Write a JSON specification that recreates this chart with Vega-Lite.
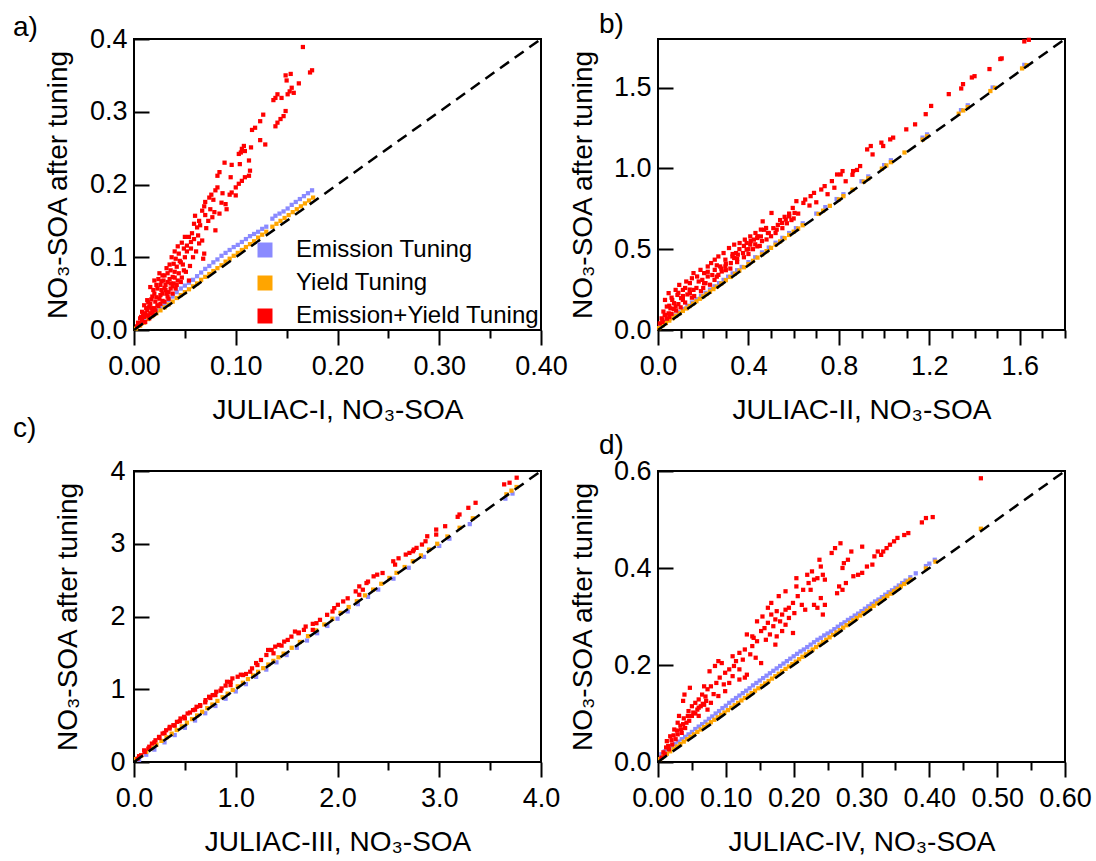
{
"$schema": "https://vega.github.io/schema/vega-lite/v6.json",
"background": "white",
"padding": {"left": 12, "top": 10, "right": 5, "bottom": 2},
"config": {
  "view": {"stroke": "black", "strokeWidth": 2},
  "font": "Liberation Sans",
  "axis": {"grid": false, "domain": false, "tickColor": "black", "tickWidth": 2, "labelFont": "Liberation Sans", "labelFontSize": 27, "labelColor": "black", "titleFont": "Liberation Sans", "titleFontSize": 28, "titleFontWeight": "normal", "titleColor": "black", "labelFlush": false, "labelOverlap": false},
  "title": {"font": "Liberation Sans", "fontSize": 28, "fontWeight": "normal", "color": "black", "anchor": "start", "frame": "group"},
  "legend": {"orient": "none", "padding": 0, "title": null, "symbolType": "square", "symbolSize": 225, "symbolStrokeWidth": 0, "symbolOpacity": 1, "labelFont": "Liberation Sans", "labelFontSize": 24, "labelColor": "black", "labelOffset": 19, "rowPadding": 9, "labelLimit": 0}
},
"datasets": {
"a": [
{"s":"E","x":0.005,"y":0.006},{"s":"E","x":0.010,"y":0.012},{"s":"E","x":0.014,"y":0.017},{"s":"E","x":0.018,"y":0.022},{"s":"E","x":0.022,"y":0.027},{"s":"E","x":0.026,"y":0.032},{"s":"E","x":0.030,"y":0.036},{"s":"E","x":0.034,"y":0.041},{"s":"E","x":0.038,"y":0.046},{"s":"E","x":0.042,"y":0.052},{"s":"E","x":0.046,"y":0.057},{"s":"E","x":0.050,"y":0.061},{"s":"E","x":0.054,"y":0.065},{"s":"E","x":0.058,"y":0.069},{"s":"E","x":0.062,"y":0.074},{"s":"E","x":0.066,"y":0.079},{"s":"E","x":0.070,"y":0.084},{"s":"E","x":0.074,"y":0.088},{"s":"E","x":0.078,"y":0.093},{"s":"E","x":0.082,"y":0.097},{"s":"E","x":0.086,"y":0.102},{"s":"E","x":0.090,"y":0.106},{"s":"E","x":0.094,"y":0.110},{"s":"E","x":0.098,"y":0.114},{"s":"E","x":0.102,"y":0.117},{"s":"E","x":0.106,"y":0.121},{"s":"E","x":0.110,"y":0.125},{"s":"E","x":0.114,"y":0.129},{"s":"E","x":0.118,"y":0.132},{"s":"E","x":0.122,"y":0.135},{"s":"E","x":0.126,"y":0.139},{"s":"E","x":0.130,"y":0.142},{"s":"E","x":0.136,"y":0.153},{"s":"E","x":0.139,"y":0.157},{"s":"E","x":0.143,"y":0.160},{"s":"E","x":0.147,"y":0.163},{"s":"E","x":0.151,"y":0.167},{"s":"E","x":0.155,"y":0.172},{"s":"E","x":0.159,"y":0.176},{"s":"E","x":0.163,"y":0.180},{"s":"E","x":0.167,"y":0.184},{"s":"E","x":0.171,"y":0.188},{"s":"E","x":0.175,"y":0.192},
{"s":"Y","x":0.002,"y":0.002},{"s":"Y","x":0.006,"y":0.006},{"s":"Y","x":0.010,"y":0.010},{"s":"Y","x":0.014,"y":0.015},{"s":"Y","x":0.018,"y":0.019},{"s":"Y","x":0.022,"y":0.023},{"s":"Y","x":0.026,"y":0.027},{"s":"Y","x":0.030,"y":0.031},{"s":"Y","x":0.034,"y":0.035},{"s":"Y","x":0.038,"y":0.039},{"s":"Y","x":0.042,"y":0.044},{"s":"Y","x":0.046,"y":0.048},{"s":"Y","x":0.050,"y":0.052},{"s":"Y","x":0.054,"y":0.056},{"s":"Y","x":0.058,"y":0.060},{"s":"Y","x":0.062,"y":0.064},{"s":"Y","x":0.066,"y":0.069},{"s":"Y","x":0.070,"y":0.073},{"s":"Y","x":0.074,"y":0.077},{"s":"Y","x":0.078,"y":0.081},{"s":"Y","x":0.082,"y":0.085},{"s":"Y","x":0.086,"y":0.089},{"s":"Y","x":0.090,"y":0.094},{"s":"Y","x":0.094,"y":0.098},{"s":"Y","x":0.098,"y":0.102},{"s":"Y","x":0.102,"y":0.106},{"s":"Y","x":0.106,"y":0.110},{"s":"Y","x":0.110,"y":0.114},{"s":"Y","x":0.114,"y":0.118},{"s":"Y","x":0.118,"y":0.122},{"s":"Y","x":0.122,"y":0.127},{"s":"Y","x":0.126,"y":0.131},{"s":"Y","x":0.130,"y":0.135},{"s":"Y","x":0.136,"y":0.142},{"s":"Y","x":0.140,"y":0.146},{"s":"Y","x":0.144,"y":0.150},{"s":"Y","x":0.148,"y":0.154},{"s":"Y","x":0.152,"y":0.158},{"s":"Y","x":0.156,"y":0.162},{"s":"Y","x":0.160,"y":0.166},{"s":"Y","x":0.164,"y":0.170},{"s":"Y","x":0.168,"y":0.174},{"s":"Y","x":0.172,"y":0.178},{"s":"Y","x":0.176,"y":0.182},
{"s":"R","x":0.166,"y":0.389},{"s":"R","x":0.175,"y":0.357},{"s":"R","x":0.173,"y":0.354},{"s":"R","x":0.154,"y":0.352},{"s":"R","x":0.149,"y":0.350},{"s":"R","x":0.150,"y":0.343},{"s":"R","x":0.162,"y":0.339},{"s":"R","x":0.155,"y":0.333},{"s":"R","x":0.153,"y":0.328},{"s":"R","x":0.157,"y":0.326},{"s":"R","x":0.151,"y":0.324},{"s":"R","x":0.141,"y":0.324},{"s":"R","x":0.139,"y":0.319},{"s":"R","x":0.137,"y":0.316},{"s":"R","x":0.145,"y":0.319},{"s":"R","x":0.127,"y":0.296},{"s":"R","x":0.149,"y":0.301},{"s":"R","x":0.147,"y":0.294},{"s":"R","x":0.144,"y":0.290},{"s":"R","x":0.141,"y":0.285},{"s":"R","x":0.139,"y":0.280},{"s":"R","x":0.124,"y":0.287},{"s":"R","x":0.119,"y":0.278},{"s":"R","x":0.116,"y":0.275},{"s":"R","x":0.124,"y":0.261},{"s":"R","x":0.129,"y":0.255},{"s":"R","x":0.108,"y":0.253},{"s":"R","x":0.106,"y":0.249},{"s":"R","x":0.105,"y":0.244},{"s":"R","x":0.103,"y":0.242},{"s":"R","x":0.109,"y":0.246},{"s":"R","x":0.115,"y":0.251},{"s":"R","x":0.089,"y":0.230},{"s":"R","x":0.096,"y":0.227},{"s":"R","x":0.104,"y":0.228},{"s":"R","x":0.113,"y":0.233},{"s":"R","x":0.084,"y":0.217},{"s":"R","x":0.082,"y":0.212},{"s":"R","x":0.095,"y":0.210},{"s":"R","x":0.114,"y":0.219},{"s":"R","x":0.113,"y":0.212},{"s":"R","x":0.109,"y":0.210},{"s":"R","x":0.106,"y":0.205},{"s":"R","x":0.103,"y":0.201},{"s":"R","x":0.100,"y":0.196},{"s":"R","x":0.096,"y":0.189},{"s":"R","x":0.094,"y":0.186},{"s":"R","x":0.100,"y":0.185},{"s":"R","x":0.082,"y":0.196},{"s":"R","x":0.080,"y":0.192},{"s":"R","x":0.087,"y":0.188},{"s":"R","x":0.076,"y":0.186},{"s":"R","x":0.074,"y":0.182},{"s":"R","x":0.078,"y":0.179},{"s":"R","x":0.070,"y":0.176},{"s":"R","x":0.069,"y":0.170},{"s":"R","x":0.067,"y":0.164},{"s":"R","x":0.090,"y":0.173},{"s":"R","x":0.091,"y":0.166},{"s":"R","x":0.075,"y":0.166},{"s":"R","x":0.079,"y":0.162},{"s":"R","x":0.060,"y":0.157},{"s":"R","x":0.064,"y":0.150},{"s":"R","x":0.059,"y":0.146},{"s":"R","x":0.062,"y":0.141},{"s":"R","x":0.065,"y":0.144},{"s":"R","x":0.080,"y":0.137},{"s":"R","x":0.057,"y":0.133},{"s":"R","x":0.054,"y":0.128},{"s":"R","x":0.059,"y":0.125},{"s":"R","x":0.056,"y":0.121},{"s":"R","x":0.052,"y":0.116},{"s":"R","x":0.049,"y":0.112},{"s":"R","x":0.064,"y":0.119},{"s":"R","x":0.067,"y":0.123},{"s":"R","x":0.069,"y":0.105},{"s":"R","x":0.068,"y":0.098},{"s":"R","x":0.044,"y":0.105},{"s":"R","x":0.041,"y":0.098},{"s":"R","x":0.046,"y":0.093},{"s":"R","x":0.039,"y":0.091},{"s":"R","x":0.042,"y":0.087},{"s":"R","x":0.036,"y":0.082},{"s":"R","x":0.049,"y":0.082},{"s":"R","x":0.033,"y":0.078},{"s":"R","x":0.038,"y":0.073},{"s":"R","x":0.054,"y":0.068},{"s":"R","x":0.046,"y":0.066},{"s":"R","x":0.029,"y":0.068},{"s":"R","x":0.026,"y":0.062},{"s":"R","x":0.023,"y":0.057},{"s":"R","x":0.020,"y":0.050},{"s":"R","x":0.018,"y":0.046},{"s":"R","x":0.031,"y":0.055},{"s":"R","x":0.028,"y":0.050},{"s":"R","x":0.025,"y":0.043},{"s":"R","x":0.021,"y":0.039},{"s":"R","x":0.016,"y":0.036},{"s":"R","x":0.015,"y":0.032},{"s":"R","x":0.013,"y":0.027},{"s":"R","x":0.011,"y":0.023},{"s":"R","x":0.010,"y":0.018},{"s":"R","x":0.008,"y":0.014},{"s":"R","x":0.007,"y":0.009},{"s":"R","x":0.005,"y":0.007},{"s":"R","x":0.020,"y":0.030},{"s":"R","x":0.023,"y":0.034},{"s":"R","x":0.026,"y":0.036},{"s":"R","x":0.033,"y":0.046},{"s":"R","x":0.036,"y":0.057},{"s":"R","x":0.039,"y":0.064},{"s":"R","x":0.013,"y":0.041},{"s":"R","x":0.010,"y":0.034},{"s":"R","x":0.016,"y":0.023},{"s":"R","x":0.008,"y":0.025},{"s":"R","x":0.007,"y":0.018},{"s":"R","x":0.011,"y":0.011},{"s":"R","x":0.015,"y":0.016},{"s":"R","x":0.018,"y":0.025},{"s":"R","x":0.021,"y":0.027},{"s":"R","x":0.034,"y":0.043},{"s":"R","x":0.030,"y":0.039},{"s":"R","x":0.025,"y":0.078},{"s":"R","x":0.020,"y":0.068},{"s":"R","x":0.028,"y":0.075},{"s":"R","x":0.016,"y":0.059},{"s":"R","x":0.033,"y":0.066},{"s":"R","x":0.038,"y":0.050},{"s":"R","x":0.041,"y":0.057},{"s":"R","x":0.043,"y":0.068},{"s":"R","x":0.003,"y":0.005},{"s":"R","x":0.012,"y":0.020},{"s":"R","x":0.017,"y":0.030},{"s":"R","x":0.022,"y":0.045},{"s":"R","x":0.027,"y":0.055},{"s":"R","x":0.031,"y":0.062},{"s":"R","x":0.035,"y":0.070},{"s":"R","x":0.040,"y":0.080},{"s":"R","x":0.045,"y":0.095},{"s":"R","x":0.050,"y":0.100},
{"s":"R","x":0.004,"y":0.010},{"s":"R","x":0.006,"y":0.016},{"s":"R","x":0.009,"y":0.020},{"s":"R","x":0.012,"y":0.030},{"s":"R","x":0.014,"y":0.038},{"s":"R","x":0.017,"y":0.042},{"s":"R","x":0.019,"y":0.055},{"s":"R","x":0.022,"y":0.062},{"s":"R","x":0.024,"y":0.070},{"s":"R","x":0.027,"y":0.067},{"s":"R","x":0.030,"y":0.075},{"s":"R","x":0.032,"y":0.085},{"s":"R","x":0.035,"y":0.090},{"s":"R","x":0.037,"y":0.100},{"s":"R","x":0.040,"y":0.108},{"s":"R","x":0.043,"y":0.115},{"s":"R","x":0.047,"y":0.120},{"s":"R","x":0.050,"y":0.128},{"s":"R","x":0.052,"y":0.108},{"s":"R","x":0.056,"y":0.112},{"s":"R","x":0.048,"y":0.090},{"s":"R","x":0.044,"y":0.078},{"s":"R","x":0.040,"y":0.072},{"s":"R","x":0.036,"y":0.064},{"s":"R","x":0.032,"y":0.050},{"s":"R","x":0.028,"y":0.040},{"s":"R","x":0.024,"y":0.033},{"s":"R","x":0.019,"y":0.021},{"s":"R","x":0.014,"y":0.020},{"s":"R","x":0.026,"y":0.048},{"s":"R","x":0.030,"y":0.058},{"s":"R","x":0.034,"y":0.052},{"s":"R","x":0.038,"y":0.060},{"s":"R","x":0.042,"y":0.062},{"s":"R","x":0.047,"y":0.072},{"s":"R","x":0.051,"y":0.080},{"s":"R","x":0.055,"y":0.088},{"s":"R","x":0.058,"y":0.100},{"s":"R","x":0.061,"y":0.108},{"s":"R","x":0.063,"y":0.130},{"s":"R","x":0.071,"y":0.140},{"s":"R","x":0.073,"y":0.150},{"s":"R","x":0.077,"y":0.155},{"s":"R","x":0.084,"y":0.160},{"s":"R","x":0.086,"y":0.175},{"s":"R","x":0.070,"y":0.158}
],
"b": [
{"s":"E","x":0.01,"y":0.03},{"s":"E","x":0.03,"y":0.05},{"s":"E","x":0.05,"y":0.07},{"s":"E","x":0.07,"y":0.09},{"s":"E","x":0.09,"y":0.11},{"s":"E","x":0.11,"y":0.13},{"s":"E","x":0.13,"y":0.15},{"s":"E","x":0.15,"y":0.17},{"s":"E","x":0.17,"y":0.19},{"s":"E","x":0.19,"y":0.21},{"s":"E","x":0.21,"y":0.23},{"s":"E","x":0.23,"y":0.25},{"s":"E","x":0.25,"y":0.27},{"s":"E","x":0.27,"y":0.29},{"s":"E","x":0.29,"y":0.31},{"s":"E","x":0.31,"y":0.33},{"s":"E","x":0.33,"y":0.35},{"s":"E","x":0.35,"y":0.37},{"s":"E","x":0.37,"y":0.39},{"s":"E","x":0.40,"y":0.42},{"s":"E","x":0.43,"y":0.45},{"s":"E","x":0.46,"y":0.48},{"s":"E","x":0.49,"y":0.51},{"s":"E","x":0.52,"y":0.54},{"s":"E","x":0.55,"y":0.57},{"s":"E","x":0.58,"y":0.60},{"s":"E","x":0.61,"y":0.63},{"s":"E","x":0.64,"y":0.66},{"s":"E","x":0.70,"y":0.72},{"s":"E","x":0.74,"y":0.76},{"s":"E","x":0.79,"y":0.81},{"s":"E","x":0.82,"y":0.84},{"s":"E","x":0.90,"y":0.92},{"s":"E","x":0.93,"y":0.95},{"s":"E","x":1.00,"y":1.02},{"s":"E","x":1.03,"y":1.05},{"s":"E","x":1.17,"y":1.19},{"s":"E","x":1.19,"y":1.21},{"s":"E","x":1.34,"y":1.36},{"s":"E","x":1.37,"y":1.39},{"s":"E","x":1.48,"y":1.50},{"s":"E","x":1.62,"y":1.64},
{"s":"Y","x":0.005,"y":0.012},{"s":"Y","x":0.02,"y":0.028},{"s":"Y","x":0.035,"y":0.043},{"s":"Y","x":0.05,"y":0.058},{"s":"Y","x":0.065,"y":0.073},{"s":"Y","x":0.08,"y":0.088},{"s":"Y","x":0.095,"y":0.103},{"s":"Y","x":0.11,"y":0.118},{"s":"Y","x":0.125,"y":0.133},{"s":"Y","x":0.14,"y":0.148},{"s":"Y","x":0.155,"y":0.163},{"s":"Y","x":0.17,"y":0.178},{"s":"Y","x":0.185,"y":0.193},{"s":"Y","x":0.20,"y":0.208},{"s":"Y","x":0.215,"y":0.223},{"s":"Y","x":0.23,"y":0.238},{"s":"Y","x":0.245,"y":0.253},{"s":"Y","x":0.26,"y":0.268},{"s":"Y","x":0.28,"y":0.288},{"s":"Y","x":0.30,"y":0.308},{"s":"Y","x":0.32,"y":0.328},{"s":"Y","x":0.34,"y":0.348},{"s":"Y","x":0.36,"y":0.368},{"s":"Y","x":0.38,"y":0.388},{"s":"Y","x":0.40,"y":0.408},{"s":"Y","x":0.42,"y":0.428},{"s":"Y","x":0.44,"y":0.448},{"s":"Y","x":0.46,"y":0.468},{"s":"Y","x":0.48,"y":0.488},{"s":"Y","x":0.50,"y":0.508},{"s":"Y","x":0.52,"y":0.528},{"s":"Y","x":0.54,"y":0.548},{"s":"Y","x":0.56,"y":0.568},{"s":"Y","x":0.58,"y":0.588},{"s":"Y","x":0.60,"y":0.608},{"s":"Y","x":0.62,"y":0.628},{"s":"Y","x":0.64,"y":0.648},{"s":"Y","x":0.71,"y":0.718},{"s":"Y","x":0.73,"y":0.738},{"s":"Y","x":0.76,"y":0.768},{"s":"Y","x":0.80,"y":0.808},{"s":"Y","x":0.82,"y":0.828},{"s":"Y","x":0.86,"y":0.868},{"s":"Y","x":0.91,"y":0.918},{"s":"Y","x":0.93,"y":0.938},{"s":"Y","x":0.99,"y":0.998},{"s":"Y","x":1.01,"y":1.018},{"s":"Y","x":1.03,"y":1.038},{"s":"Y","x":1.09,"y":1.098},{"s":"Y","x":1.17,"y":1.178},{"s":"Y","x":1.19,"y":1.198},{"s":"Y","x":1.33,"y":1.338},{"s":"Y","x":1.35,"y":1.358},{"s":"Y","x":1.37,"y":1.378},{"s":"Y","x":1.47,"y":1.478},{"s":"Y","x":1.49,"y":1.498},{"s":"Y","x":1.61,"y":1.618},{"s":"Y","x":1.63,"y":1.638},
{"s":"R","x":1.62,"y":1.785},{"s":"R","x":1.64,"y":1.795},{"s":"R","x":1.514,"y":1.676},{"s":"R","x":1.52,"y":1.68},{"s":"R","x":1.466,"y":1.614},{"s":"R","x":1.388,"y":1.562},{"s":"R","x":1.40,"y":1.57},{"s":"R","x":1.349,"y":1.521},{"s":"R","x":1.341,"y":1.494},{"s":"R","x":1.286,"y":1.459},{"s":"R","x":1.208,"y":1.386},{"s":"R","x":1.184,"y":1.335},{"s":"R","x":1.137,"y":1.272},{"s":"R","x":1.098,"y":1.241},{"s":"R","x":1.027,"y":1.179},{"s":"R","x":1.04,"y":1.19},{"s":"R","x":0.996,"y":1.138},{"s":"R","x":0.988,"y":1.159},{"s":"R","x":0.941,"y":1.138},{"s":"R","x":0.949,"y":1.086},{"s":"R","x":0.925,"y":1.117},{"s":"R","x":0.894,"y":1.014},{"s":"R","x":0.863,"y":0.983},{"s":"R","x":0.816,"y":0.983},{"s":"R","x":0.808,"y":0.962},{"s":"R","x":0.792,"y":0.962},{"s":"R","x":0.769,"y":0.921},{"s":"R","x":0.737,"y":0.890},{"s":"R","x":0.722,"y":0.869},{"s":"R","x":0.690,"y":0.848},{"s":"R","x":0.675,"y":0.828},{"s":"R","x":0.651,"y":0.807},{"s":"R","x":0.643,"y":0.786},{"s":"R","x":0.612,"y":0.797},{"s":"R","x":0.596,"y":0.755},{"s":"R","x":0.604,"y":0.724},{"s":"R","x":0.580,"y":0.703},{"s":"R","x":0.565,"y":0.683},{"s":"R","x":0.549,"y":0.662},{"s":"R","x":0.502,"y":0.724},{"s":"R","x":0.463,"y":0.672},{"s":"R","x":0.525,"y":0.621},{"s":"R","x":0.486,"y":0.600},{"s":"R","x":0.455,"y":0.579},{"s":"R","x":0.424,"y":0.559},{"s":"R","x":0.439,"y":0.517},{"s":"R","x":0.408,"y":0.528},{"s":"R","x":0.392,"y":0.497},{"s":"R","x":0.376,"y":0.476},{"s":"R","x":0.353,"y":0.466},{"s":"R","x":0.337,"y":0.445},{"s":"R","x":0.322,"y":0.414},{"s":"R","x":0.298,"y":0.393},{"s":"R","x":0.282,"y":0.362},{"s":"R","x":0.267,"y":0.341},{"s":"R","x":0.251,"y":0.435},{"s":"R","x":0.220,"y":0.393},{"s":"R","x":0.204,"y":0.352},{"s":"R","x":0.173,"y":0.331},{"s":"R","x":0.141,"y":0.290},{"s":"R","x":0.110,"y":0.248},{"s":"R","x":0.086,"y":0.217},{"s":"R","x":0.063,"y":0.186},{"s":"R","x":0.039,"y":0.145},{"s":"R","x":0.024,"y":0.114},{"s":"R","x":0.016,"y":0.072},{"s":"R","x":0.008,"y":0.041},{"s":"R","x":0.031,"y":0.186},{"s":"R","x":0.047,"y":0.228},{"s":"R","x":0.078,"y":0.248},{"s":"R","x":0.094,"y":0.279},{"s":"R","x":0.125,"y":0.300},{"s":"R","x":0.157,"y":0.352},{"s":"R","x":0.188,"y":0.372},{"s":"R","x":0.235,"y":0.414},{"s":"R","x":0.267,"y":0.455},{"s":"R","x":0.290,"y":0.476},{"s":"R","x":0.314,"y":0.507},{"s":"R","x":0.337,"y":0.528},{"s":"R","x":0.361,"y":0.538},{"s":"R","x":0.384,"y":0.559},{"s":"R","x":0.408,"y":0.579},{"s":"R","x":0.431,"y":0.600},{"s":"R","x":0.455,"y":0.621},{"s":"R","x":0.478,"y":0.631},{"s":"R","x":0.275,"y":0.393},{"s":"R","x":0.204,"y":0.290},{"s":"R","x":0.157,"y":0.248},{"s":"R","x":0.110,"y":0.186},{"s":"R","x":0.078,"y":0.145},{"s":"R","x":0.047,"y":0.103},{"s":"R","x":0.220,"y":0.331},{"s":"R","x":0.298,"y":0.435},{"s":"R","x":0.345,"y":0.476},{"s":"R","x":0.392,"y":0.538},{"s":"R","x":0.439,"y":0.569},{"s":"R","x":0.329,"y":0.455},{"s":"R","x":0.251,"y":0.372},{"s":"R","x":0.196,"y":0.310},{"s":"R","x":0.141,"y":0.228},{"s":"R","x":0.102,"y":0.197},{"s":"R","x":0.071,"y":0.166},{"s":"R","x":0.055,"y":0.134},{"s":"R","x":0.031,"y":0.093},{"s":"R","x":0.020,"y":0.062},{"s":"R","x":0.30,"y":0.37},{"s":"R","x":0.35,"y":0.42},{"s":"R","x":0.40,"y":0.47},{"s":"R","x":0.45,"y":0.52},{"s":"R","x":0.50,"y":0.58},{"s":"R","x":0.55,"y":0.63},{"s":"R","x":0.60,"y":0.69},{"s":"R","x":0.20,"y":0.26},{"s":"R","x":0.15,"y":0.20},{"s":"R","x":0.10,"y":0.14},{"s":"R","x":0.05,"y":0.08},{"s":"R","x":0.25,"y":0.31},{"s":"R","x":0.38,"y":0.45},{"s":"R","x":0.42,"y":0.50},{"s":"R","x":0.48,"y":0.56},{"s":"R","x":0.52,"y":0.60},{"s":"R","x":0.57,"y":0.66},{"s":"R","x":0.62,"y":0.72},{"s":"R","x":0.67,"y":0.77},{"s":"R","x":0.70,"y":0.79},{"s":"R","x":0.75,"y":0.84},{"s":"R","x":0.78,"y":0.88},{"s":"R","x":0.83,"y":0.92},{"s":"R","x":0.86,"y":0.96},{"s":"R","x":0.88,"y":0.99},
{"s":"R","x":0.02,"y":0.05},{"s":"R","x":0.04,"y":0.07},{"s":"R","x":0.06,"y":0.10},{"s":"R","x":0.08,"y":0.12},{"s":"R","x":0.09,"y":0.16},{"s":"R","x":0.12,"y":0.17},{"s":"R","x":0.13,"y":0.22},{"s":"R","x":0.16,"y":0.21},{"s":"R","x":0.17,"y":0.26},{"s":"R","x":0.19,"y":0.24},{"s":"R","x":0.21,"y":0.29},{"s":"R","x":0.23,"y":0.28},{"s":"R","x":0.24,"y":0.34},{"s":"R","x":0.26,"y":0.33},{"s":"R","x":0.28,"y":0.38},{"s":"R","x":0.30,"y":0.41},{"s":"R","x":0.32,"y":0.38},{"s":"R","x":0.33,"y":0.47},{"s":"R","x":0.35,"y":0.44},{"s":"R","x":0.36,"y":0.50},{"s":"R","x":0.38,"y":0.52},{"s":"R","x":0.40,"y":0.50},{"s":"R","x":0.41,"y":0.55},{"s":"R","x":0.43,"y":0.53},{"s":"R","x":0.44,"y":0.58},{"s":"R","x":0.46,"y":0.55},{"s":"R","x":0.47,"y":0.62},{"s":"R","x":0.49,"y":0.60},{"s":"R","x":0.51,"y":0.63},{"s":"R","x":0.53,"y":0.65},{"s":"R","x":0.54,"y":0.68},{"s":"R","x":0.56,"y":0.70},{"s":"R","x":0.58,"y":0.72},{"s":"R","x":0.59,"y":0.68},{"s":"R","x":0.11,"y":0.21},{"s":"R","x":0.14,"y":0.25},{"s":"R","x":0.18,"y":0.30},{"s":"R","x":0.22,"y":0.36},{"s":"R","x":0.26,"y":0.40},{"s":"R","x":0.07,"y":0.13},{"s":"R","x":0.03,"y":0.09},{"s":"R","x":0.05,"y":0.15},{"s":"R","x":0.06,"y":0.20},{"s":"R","x":0.09,"y":0.23},{"s":"R","x":0.15,"y":0.32},{"s":"R","x":0.12,"y":0.26}
],
"c": [
{"s":"E","x":0.05,"y":0.03},{"s":"E","x":0.12,"y":0.10},{"s":"E","x":0.2,"y":0.17},{"s":"E","x":0.3,"y":0.27},{"s":"E","x":0.4,"y":0.37},{"s":"E","x":0.5,"y":0.47},{"s":"E","x":0.6,"y":0.57},{"s":"E","x":0.7,"y":0.67},{"s":"E","x":0.8,"y":0.77},{"s":"E","x":0.9,"y":0.87},{"s":"E","x":1.0,"y":0.97},{"s":"E","x":1.1,"y":1.07},{"s":"E","x":1.2,"y":1.17},{"s":"E","x":1.3,"y":1.27},{"s":"E","x":1.4,"y":1.37},{"s":"E","x":1.5,"y":1.47},{"s":"E","x":1.6,"y":1.57},{"s":"E","x":1.7,"y":1.67},{"s":"E","x":1.8,"y":1.77},{"s":"E","x":1.9,"y":1.87},{"s":"E","x":2.0,"y":1.97},{"s":"E","x":2.1,"y":2.07},{"s":"E","x":2.2,"y":2.17},{"s":"E","x":2.3,"y":2.27},{"s":"E","x":2.4,"y":2.37},{"s":"E","x":2.55,"y":2.52},{"s":"E","x":2.7,"y":2.67},{"s":"E","x":2.85,"y":2.82},{"s":"E","x":3.0,"y":2.97},{"s":"E","x":3.1,"y":3.07},{"s":"E","x":3.3,"y":3.27},{"s":"E","x":3.65,"y":3.62},{"s":"E","x":3.72,"y":3.69},
{"s":"Y","x":0.02,"y":0.04},{"s":"Y","x":0.07,"y":0.09},{"s":"Y","x":0.12,"y":0.14},{"s":"Y","x":0.17,"y":0.19},{"s":"Y","x":0.22,"y":0.24},{"s":"Y","x":0.27,"y":0.29},{"s":"Y","x":0.32,"y":0.34},{"s":"Y","x":0.37,"y":0.39},{"s":"Y","x":0.42,"y":0.44},{"s":"Y","x":0.47,"y":0.49},{"s":"Y","x":0.52,"y":0.54},{"s":"Y","x":0.57,"y":0.59},{"s":"Y","x":0.62,"y":0.64},{"s":"Y","x":0.67,"y":0.69},{"s":"Y","x":0.72,"y":0.74},{"s":"Y","x":0.77,"y":0.79},{"s":"Y","x":0.82,"y":0.84},{"s":"Y","x":0.87,"y":0.89},{"s":"Y","x":0.92,"y":0.94},{"s":"Y","x":0.97,"y":0.99},{"s":"Y","x":1.02,"y":1.04},{"s":"Y","x":1.07,"y":1.09},{"s":"Y","x":1.12,"y":1.14},{"s":"Y","x":1.17,"y":1.19},{"s":"Y","x":1.22,"y":1.24},{"s":"Y","x":1.27,"y":1.29},{"s":"Y","x":1.32,"y":1.34},{"s":"Y","x":1.37,"y":1.39},{"s":"Y","x":1.42,"y":1.44},{"s":"Y","x":1.47,"y":1.49},{"s":"Y","x":1.55,"y":1.57},{"s":"Y","x":1.63,"y":1.65},{"s":"Y","x":1.71,"y":1.73},{"s":"Y","x":1.79,"y":1.81},{"s":"Y","x":1.87,"y":1.89},{"s":"Y","x":1.95,"y":1.97},{"s":"Y","x":2.03,"y":2.05},{"s":"Y","x":2.11,"y":2.13},{"s":"Y","x":2.19,"y":2.21},{"s":"Y","x":2.27,"y":2.29},{"s":"Y","x":2.35,"y":2.37},{"s":"Y","x":2.43,"y":2.45},{"s":"Y","x":2.51,"y":2.53},{"s":"Y","x":2.58,"y":2.60},{"s":"Y","x":2.66,"y":2.68},{"s":"Y","x":2.74,"y":2.76},{"s":"Y","x":2.82,"y":2.84},{"s":"Y","x":2.90,"y":2.92},{"s":"Y","x":2.98,"y":3.00},{"s":"Y","x":3.08,"y":3.10},{"s":"Y","x":3.20,"y":3.22},{"s":"Y","x":3.33,"y":3.35},{"s":"Y","x":3.66,"y":3.68},{"s":"Y","x":3.71,"y":3.73},{"s":"Y","x":3.76,"y":3.78},
{"s":"R","x":3.761,"y":3.908},{"s":"R","x":3.691,"y":3.839},{"s":"R","x":3.638,"y":3.816},{"s":"R","x":3.357,"y":3.563},{"s":"R","x":3.286,"y":3.494},{"s":"R","x":3.199,"y":3.402},{"s":"R","x":3.181,"y":3.370},{"s":"R","x":3.058,"y":3.241},{"s":"R","x":2.970,"y":3.195},{"s":"R","x":2.970,"y":3.126},{"s":"R","x":2.882,"y":3.103},{"s":"R","x":2.865,"y":3.034},{"s":"R","x":2.830,"y":2.989},{"s":"R","x":2.777,"y":2.943},{"s":"R","x":2.742,"y":2.897},{"s":"R","x":2.707,"y":2.874},{"s":"R","x":2.671,"y":2.851},{"s":"R","x":2.548,"y":2.759},{"s":"R","x":2.566,"y":2.713},{"s":"R","x":2.443,"y":2.598},{"s":"R","x":2.390,"y":2.575},{"s":"R","x":2.355,"y":2.552},{"s":"R","x":2.285,"y":2.460},{"s":"R","x":2.214,"y":2.414},{"s":"R","x":2.249,"y":2.368},{"s":"R","x":2.179,"y":2.345},{"s":"R","x":2.056,"y":2.207},{"s":"R","x":2.004,"y":2.161},{"s":"R","x":1.968,"y":2.115},{"s":"R","x":1.951,"y":2.069},{"s":"R","x":1.898,"y":2.023},{"s":"R","x":1.828,"y":1.954},{"s":"R","x":1.793,"y":1.908},{"s":"R","x":1.757,"y":1.899},{"s":"R","x":1.670,"y":1.816},{"s":"R","x":1.617,"y":1.770},{"s":"R","x":1.582,"y":1.793},{"s":"R","x":1.547,"y":1.724},{"s":"R","x":1.511,"y":1.678},{"s":"R","x":1.476,"y":1.655},{"s":"R","x":1.424,"y":1.609},{"s":"R","x":1.388,"y":1.586},{"s":"R","x":1.353,"y":1.540},{"s":"R","x":1.318,"y":1.540},{"s":"R","x":1.301,"y":1.471},{"s":"R","x":1.248,"y":1.402},{"s":"R","x":1.213,"y":1.333},{"s":"R","x":1.160,"y":1.287},{"s":"R","x":1.142,"y":1.241},{"s":"R","x":1.072,"y":1.195},{"s":"R","x":1.019,"y":1.172},{"s":"R","x":0.967,"y":1.149},{"s":"R","x":0.914,"y":1.103},{"s":"R","x":0.949,"y":1.057},{"s":"R","x":0.861,"y":1.011},{"s":"R","x":0.808,"y":0.966},{"s":"R","x":0.773,"y":0.920},{"s":"R","x":0.738,"y":0.897},{"s":"R","x":0.703,"y":0.851},{"s":"R","x":0.650,"y":0.782},{"s":"R","x":0.615,"y":0.759},{"s":"R","x":0.580,"y":0.713},{"s":"R","x":0.527,"y":0.667},{"s":"R","x":0.492,"y":0.621},{"s":"R","x":0.457,"y":0.598},{"s":"R","x":0.422,"y":0.552},{"s":"R","x":0.387,"y":0.506},{"s":"R","x":0.351,"y":0.483},{"s":"R","x":0.316,"y":0.437},{"s":"R","x":0.281,"y":0.391},{"s":"R","x":0.246,"y":0.345},{"s":"R","x":0.211,"y":0.299},{"s":"R","x":0.176,"y":0.253},{"s":"R","x":0.141,"y":0.184},{"s":"R","x":0.105,"y":0.138},{"s":"R","x":0.070,"y":0.092},{"s":"R","x":0.035,"y":0.046},{"s":"R","x":1.371,"y":1.494},{"s":"R","x":1.687,"y":1.862},{"s":"R","x":2.214,"y":2.299},{"s":"R","x":1.757,"y":1.816},{"s":"R","x":1.10,"y":1.21},{"s":"R","x":1.20,"y":1.36},{"s":"R","x":1.45,"y":1.60},{"s":"R","x":1.62,"y":1.78},{"s":"R","x":2.10,"y":2.25},{"s":"R","x":2.30,"y":2.48},{"s":"R","x":2.60,"y":2.80},{"s":"R","x":2.75,"y":2.92},{"s":"R","x":0.90,"y":1.05},{"s":"R","x":0.80,"y":0.92},{"s":"R","x":0.70,"y":0.82},{"s":"R","x":0.60,"y":0.72},{"s":"R","x":0.50,"y":0.60},{"s":"R","x":0.40,"y":0.50},{"s":"R","x":0.30,"y":0.40},{"s":"R","x":0.20,"y":0.27},{"s":"R","x":0.10,"y":0.16},{"s":"R","x":0.05,"y":0.08},{"s":"R","x":0.15,"y":0.21},{"s":"R","x":0.25,"y":0.33},{"s":"R","x":0.35,"y":0.46},{"s":"R","x":0.45,"y":0.56},{"s":"R","x":0.55,"y":0.68},{"s":"R","x":0.65,"y":0.77},{"s":"R","x":0.75,"y":0.88},{"s":"R","x":0.85,"y":0.98},{"s":"R","x":0.95,"y":1.10},{"s":"R","x":1.05,"y":1.20}
],
"d": [
{"s":"E","x":0.005,"y":0.016},{"s":"E","x":0.015,"y":0.027},{"s":"E","x":0.025,"y":0.037},{"s":"E","x":0.035,"y":0.047},{"s":"E","x":0.045,"y":0.057},{"s":"E","x":0.055,"y":0.068},{"s":"E","x":0.065,"y":0.078},{"s":"E","x":0.075,"y":0.089},{"s":"E","x":0.085,"y":0.100},{"s":"E","x":0.095,"y":0.111},{"s":"E","x":0.105,"y":0.122},{"s":"E","x":0.115,"y":0.132},{"s":"E","x":0.125,"y":0.142},{"s":"E","x":0.135,"y":0.152},{"s":"E","x":0.145,"y":0.163},{"s":"E","x":0.155,"y":0.173},{"s":"E","x":0.165,"y":0.183},{"s":"E","x":0.175,"y":0.193},{"s":"E","x":0.185,"y":0.203},{"s":"E","x":0.195,"y":0.213},{"s":"E","x":0.205,"y":0.223},{"s":"E","x":0.215,"y":0.232},{"s":"E","x":0.225,"y":0.242},{"s":"E","x":0.235,"y":0.252},{"s":"E","x":0.245,"y":0.261},{"s":"E","x":0.255,"y":0.269},{"s":"E","x":0.265,"y":0.279},{"s":"E","x":0.275,"y":0.288},{"s":"E","x":0.285,"y":0.297},{"s":"E","x":0.295,"y":0.306},{"s":"E","x":0.305,"y":0.316},{"s":"E","x":0.315,"y":0.326},{"s":"E","x":0.325,"y":0.335},{"s":"E","x":0.335,"y":0.345},{"s":"E","x":0.345,"y":0.354},{"s":"E","x":0.355,"y":0.364},{"s":"E","x":0.365,"y":0.374},{"s":"E","x":0.372,"y":0.381},{"s":"E","x":0.395,"y":0.404},{"s":"E","x":0.408,"y":0.417},
{"s":"E","x":0.010,"y":0.022},{"s":"E","x":0.020,"y":0.032},{"s":"E","x":0.030,"y":0.042},{"s":"E","x":0.040,"y":0.052},{"s":"E","x":0.050,"y":0.062},{"s":"E","x":0.060,"y":0.073},{"s":"E","x":0.070,"y":0.083},{"s":"E","x":0.080,"y":0.094},{"s":"E","x":0.090,"y":0.105},{"s":"E","x":0.100,"y":0.116},{"s":"E","x":0.110,"y":0.127},{"s":"E","x":0.120,"y":0.137},{"s":"E","x":0.130,"y":0.147},{"s":"E","x":0.140,"y":0.158},{"s":"E","x":0.150,"y":0.168},{"s":"E","x":0.160,"y":0.178},{"s":"E","x":0.170,"y":0.188},{"s":"E","x":0.180,"y":0.198},{"s":"E","x":0.190,"y":0.208},{"s":"E","x":0.200,"y":0.218},{"s":"E","x":0.210,"y":0.228},{"s":"E","x":0.220,"y":0.237},{"s":"E","x":0.230,"y":0.247},{"s":"E","x":0.240,"y":0.256},{"s":"E","x":0.250,"y":0.265},{"s":"E","x":0.260,"y":0.274},{"s":"E","x":0.270,"y":0.284},{"s":"E","x":0.280,"y":0.293},{"s":"E","x":0.290,"y":0.302},{"s":"E","x":0.300,"y":0.311},{"s":"E","x":0.310,"y":0.321},{"s":"E","x":0.320,"y":0.331},{"s":"E","x":0.330,"y":0.340},{"s":"E","x":0.340,"y":0.350},{"s":"E","x":0.350,"y":0.359},{"s":"E","x":0.360,"y":0.369},{"s":"E","x":0.380,"y":0.389},{"s":"E","x":0.400,"y":0.409},
{"s":"Y","x":0.003,"y":0.006},{"s":"Y","x":0.013,"y":0.017},{"s":"Y","x":0.023,"y":0.027},{"s":"Y","x":0.033,"y":0.037},{"s":"Y","x":0.043,"y":0.047},{"s":"Y","x":0.053,"y":0.057},{"s":"Y","x":0.063,"y":0.067},{"s":"Y","x":0.073,"y":0.077},{"s":"Y","x":0.083,"y":0.087},{"s":"Y","x":0.093,"y":0.097},{"s":"Y","x":0.103,"y":0.107},{"s":"Y","x":0.113,"y":0.117},{"s":"Y","x":0.123,"y":0.127},{"s":"Y","x":0.133,"y":0.137},{"s":"Y","x":0.143,"y":0.147},{"s":"Y","x":0.153,"y":0.157},{"s":"Y","x":0.163,"y":0.167},{"s":"Y","x":0.173,"y":0.177},{"s":"Y","x":0.183,"y":0.187},{"s":"Y","x":0.193,"y":0.197},{"s":"Y","x":0.203,"y":0.207},{"s":"Y","x":0.213,"y":0.217},{"s":"Y","x":0.223,"y":0.227},{"s":"Y","x":0.233,"y":0.237},{"s":"Y","x":0.243,"y":0.247},{"s":"Y","x":0.253,"y":0.257},{"s":"Y","x":0.263,"y":0.267},{"s":"Y","x":0.273,"y":0.277},{"s":"Y","x":0.283,"y":0.287},{"s":"Y","x":0.293,"y":0.297},{"s":"Y","x":0.303,"y":0.307},{"s":"Y","x":0.313,"y":0.317},{"s":"Y","x":0.323,"y":0.327},{"s":"Y","x":0.333,"y":0.337},{"s":"Y","x":0.343,"y":0.347},{"s":"Y","x":0.353,"y":0.357},{"s":"Y","x":0.363,"y":0.367},{"s":"Y","x":0.372,"y":0.376},{"s":"Y","x":0.395,"y":0.399},{"s":"Y","x":0.409,"y":0.413},{"s":"Y","x":0.476,"y":0.481},
{"s":"Y","x":0.008,"y":0.012},{"s":"Y","x":0.018,"y":0.022},{"s":"Y","x":0.028,"y":0.032},{"s":"Y","x":0.038,"y":0.042},{"s":"Y","x":0.048,"y":0.052},{"s":"Y","x":0.058,"y":0.062},{"s":"Y","x":0.068,"y":0.072},{"s":"Y","x":0.078,"y":0.082},{"s":"Y","x":0.088,"y":0.092},{"s":"Y","x":0.098,"y":0.102},{"s":"Y","x":0.108,"y":0.112},{"s":"Y","x":0.118,"y":0.122},{"s":"Y","x":0.128,"y":0.132},{"s":"Y","x":0.138,"y":0.142},{"s":"Y","x":0.148,"y":0.152},{"s":"Y","x":0.158,"y":0.162},{"s":"Y","x":0.168,"y":0.172},{"s":"Y","x":0.178,"y":0.182},{"s":"Y","x":0.188,"y":0.192},{"s":"Y","x":0.198,"y":0.202},{"s":"Y","x":0.208,"y":0.212},{"s":"Y","x":0.218,"y":0.222},{"s":"Y","x":0.228,"y":0.232},{"s":"Y","x":0.238,"y":0.242},{"s":"Y","x":0.248,"y":0.252},{"s":"Y","x":0.258,"y":0.262},{"s":"Y","x":0.268,"y":0.272},{"s":"Y","x":0.278,"y":0.282},{"s":"Y","x":0.288,"y":0.292},{"s":"Y","x":0.298,"y":0.302},{"s":"Y","x":0.308,"y":0.312},{"s":"Y","x":0.318,"y":0.322},{"s":"Y","x":0.328,"y":0.332},{"s":"Y","x":0.338,"y":0.342},{"s":"Y","x":0.348,"y":0.352},{"s":"Y","x":0.358,"y":0.362},{"s":"Y","x":0.368,"y":0.372},
{"s":"R","x":0.476,"y":0.585},{"s":"R","x":0.395,"y":0.503},{"s":"R","x":0.405,"y":0.505},{"s":"R","x":0.389,"y":0.494},{"s":"R","x":0.369,"y":0.472},{"s":"R","x":0.363,"y":0.468},{"s":"R","x":0.353,"y":0.462},{"s":"R","x":0.348,"y":0.455},{"s":"R","x":0.342,"y":0.448},{"s":"R","x":0.337,"y":0.441},{"s":"R","x":0.332,"y":0.434},{"s":"R","x":0.329,"y":0.427},{"s":"R","x":0.324,"y":0.434},{"s":"R","x":0.319,"y":0.424},{"s":"R","x":0.301,"y":0.444},{"s":"R","x":0.316,"y":0.407},{"s":"R","x":0.308,"y":0.403},{"s":"R","x":0.301,"y":0.390},{"s":"R","x":0.295,"y":0.386},{"s":"R","x":0.288,"y":0.383},{"s":"R","x":0.269,"y":0.451},{"s":"R","x":0.261,"y":0.441},{"s":"R","x":0.285,"y":0.434},{"s":"R","x":0.280,"y":0.417},{"s":"R","x":0.274,"y":0.410},{"s":"R","x":0.272,"y":0.400},{"s":"R","x":0.267,"y":0.362},{"s":"R","x":0.272,"y":0.355},{"s":"R","x":0.277,"y":0.369},{"s":"R","x":0.264,"y":0.348},{"s":"R","x":0.240,"y":0.403},{"s":"R","x":0.243,"y":0.386},{"s":"R","x":0.235,"y":0.379},{"s":"R","x":0.246,"y":0.376},{"s":"R","x":0.230,"y":0.376},{"s":"R","x":0.222,"y":0.369},{"s":"R","x":0.225,"y":0.355},{"s":"R","x":0.240,"y":0.338},{"s":"R","x":0.246,"y":0.324},{"s":"R","x":0.243,"y":0.304},{"s":"R","x":0.235,"y":0.318},{"s":"R","x":0.230,"y":0.324},{"s":"R","x":0.204,"y":0.362},{"s":"R","x":0.214,"y":0.355},{"s":"R","x":0.206,"y":0.342},{"s":"R","x":0.212,"y":0.324},{"s":"R","x":0.199,"y":0.328},{"s":"R","x":0.193,"y":0.318},{"s":"R","x":0.188,"y":0.314},{"s":"R","x":0.201,"y":0.307},{"s":"R","x":0.217,"y":0.314},{"s":"R","x":0.183,"y":0.304},{"s":"R","x":0.175,"y":0.311},{"s":"R","x":0.167,"y":0.304},{"s":"R","x":0.173,"y":0.294},{"s":"R","x":0.180,"y":0.290},{"s":"R","x":0.188,"y":0.283},{"s":"R","x":0.199,"y":0.266},{"s":"R","x":0.193,"y":0.297},{"s":"R","x":0.170,"y":0.280},{"s":"R","x":0.162,"y":0.287},{"s":"R","x":0.157,"y":0.276},{"s":"R","x":0.152,"y":0.270},{"s":"R","x":0.165,"y":0.263},{"s":"R","x":0.159,"y":0.252},{"s":"R","x":0.173,"y":0.242},{"s":"R","x":0.175,"y":0.259},{"s":"R","x":0.183,"y":0.270},{"s":"R","x":0.131,"y":0.263},{"s":"R","x":0.141,"y":0.256},{"s":"R","x":0.146,"y":0.249},{"s":"R","x":0.139,"y":0.239},{"s":"R","x":0.128,"y":0.232},{"s":"R","x":0.120,"y":0.225},{"s":"R","x":0.136,"y":0.222},{"s":"R","x":0.144,"y":0.215},{"s":"R","x":0.152,"y":0.204},{"s":"R","x":0.125,"y":0.211},{"s":"R","x":0.115,"y":0.208},{"s":"R","x":0.112,"y":0.198},{"s":"R","x":0.120,"y":0.191},{"s":"R","x":0.131,"y":0.180},{"s":"R","x":0.128,"y":0.174},{"s":"R","x":0.105,"y":0.191},{"s":"R","x":0.099,"y":0.184},{"s":"R","x":0.094,"y":0.204},{"s":"R","x":0.089,"y":0.208},{"s":"R","x":0.084,"y":0.198},{"s":"R","x":0.076,"y":0.187},{"s":"R","x":0.091,"y":0.174},{"s":"R","x":0.097,"y":0.160},{"s":"R","x":0.099,"y":0.146},{"s":"R","x":0.086,"y":0.163},{"s":"R","x":0.078,"y":0.156},{"s":"R","x":0.073,"y":0.150},{"s":"R","x":0.068,"y":0.156},{"s":"R","x":0.065,"y":0.139},{"s":"R","x":0.060,"y":0.129},{"s":"R","x":0.055,"y":0.122},{"s":"R","x":0.050,"y":0.115},{"s":"R","x":0.071,"y":0.126},{"s":"R","x":0.047,"y":0.153},{"s":"R","x":0.039,"y":0.139},{"s":"R","x":0.037,"y":0.126},{"s":"R","x":0.058,"y":0.108},{"s":"R","x":0.052,"y":0.102},{"s":"R","x":0.044,"y":0.095},{"s":"R","x":0.042,"y":0.081},{"s":"R","x":0.037,"y":0.078},{"s":"R","x":0.034,"y":0.067},{"s":"R","x":0.029,"y":0.057},{"s":"R","x":0.026,"y":0.047},{"s":"R","x":0.021,"y":0.036},{"s":"R","x":0.016,"y":0.026},{"s":"R","x":0.010,"y":0.016},{"s":"R","x":0.005,"y":0.009},{"s":"R","x":0.029,"y":0.081},{"s":"R","x":0.024,"y":0.067},{"s":"R","x":0.018,"y":0.053},{"s":"R","x":0.013,"y":0.043},{"s":"R","x":0.031,"y":0.095},{"s":"R","x":0.063,"y":0.115},{"s":"R","x":0.073,"y":0.108},{"s":"R","x":0.078,"y":0.122},{"s":"R","x":0.089,"y":0.136},{"s":"R","x":0.105,"y":0.163},{"s":"R","x":0.110,"y":0.177},{"s":"R","x":0.120,"y":0.170},{"s":"R","x":0.110,"y":0.218},{"s":"R","x":0.139,"y":0.259},{"s":"R","x":0.146,"y":0.290},{"s":"R","x":0.154,"y":0.300},{"s":"R","x":0.162,"y":0.318},{"s":"R","x":0.167,"y":0.328},{"s":"R","x":0.178,"y":0.342},{"s":"R","x":0.188,"y":0.352},{"s":"R","x":0.204,"y":0.379},{"s":"R","x":0.220,"y":0.386},{"s":"R","x":0.227,"y":0.393},{"s":"R","x":0.238,"y":0.417},{"s":"R","x":0.256,"y":0.431},{"s":"R","x":0.008,"y":0.020},{"s":"R","x":0.012,"y":0.030},{"s":"R","x":0.020,"y":0.045},{"s":"R","x":0.023,"y":0.055},{"s":"R","x":0.028,"y":0.065},{"s":"R","x":0.033,"y":0.075},{"s":"R","x":0.038,"y":0.090},{"s":"R","x":0.045,"y":0.105},{"s":"R","x":0.050,"y":0.095},{"s":"R","x":0.055,"y":0.100},{"s":"R","x":0.060,"y":0.112},{"s":"R","x":0.066,"y":0.120},{"s":"R","x":0.040,"y":0.070},{"s":"R","x":0.046,"y":0.085},{"s":"R","x":0.035,"y":0.060},{"s":"R","x":0.015,"y":0.033},{"s":"R","x":0.060,"y":0.095},{"s":"R","x":0.068,"y":0.118},{"s":"R","x":0.082,"y":0.140},{"s":"R","x":0.070,"y":0.135}
],
"la": [{"x":0,"y":0},{"x":0.4,"y":0.4}],
"lb": [{"x":0,"y":0},{"x":1.8,"y":1.8}],
"lc": [{"x":0,"y":0},{"x":4,"y":4}],
"ld": [{"x":0,"y":0},{"x":0.6,"y":0.6}]
},
"bounds": "flush",
"columns": 2,
"spacing": {"row": 141, "column": 117},
"resolve": {"scale": {"color": "independent"}, "legend": {"color": "independent"}},
"concat": [
  {"width": 407, "height": 291,
   "title": {"text": "a)", "dx": -121, "offset": -17},
   "layer": [
    {"data": {"name": "a"}, "mark": {"type": "square", "size": 18, "opacity": 1},
     "encoding": {
      "x": {"field": "x", "type": "quantitative", "scale": {"domain": [0, 0.4], "nice": false, "zero": false},
            "axis": {"orient": "bottom", "values": [0, 0.1, 0.2, 0.3, 0.4], "format": ".2f", "tickSize": 15, "labelPadding": 8, "title": "JULIAC-I, NO₃-SOA", "titlePadding": 17}},
      "y": {"field": "y", "type": "quantitative", "scale": {"domain": [0, 0.4], "nice": false, "zero": false},
            "axis": {"orient": "left", "values": [0, 0.1, 0.2, 0.3, 0.4], "format": ".1f", "ticks": false, "tickSize": 0, "labelPadding": 7, "title": "NO₃-SOA after tuning", "titlePadding": 17}},
      "color": {"field": "s", "type": "nominal", "scale": {"domain": ["E", "Y", "R"], "range": ["#8A8AFF", "#FFA500", "#FF0000"]},
            "legend": {"legendX": 119, "legendY": 199, "labelExpr": "datum.label == 'E' ? 'Emission Tuning' : datum.label == 'Y' ? 'Yield Tuning' : 'Emission+Yield Tuning'"}}
     }},
    {"data": {"name": "la"}, "mark": {"type": "line", "color": "black", "strokeWidth": 2.5, "strokeDash": [11, 7]},
     "encoding": {
      "x": {"field": "x", "type": "quantitative", "scale": {"domain": [0, 0.4], "nice": false, "zero": false},
            "axis": {"orient": "bottom", "values": [0.05, 0.15, 0.25, 0.35], "tickSize": 8, "labels": false, "title": null}},
      "y": {"field": "y", "type": "quantitative", "scale": {"domain": [0, 0.4], "nice": false, "zero": false},
            "axis": {"orient": "left", "values": [0, 0.1, 0.2, 0.3, 0.4], "tickSize": 15, "offset": -15, "labels": false, "title": null}}
     }}
   ],
   "resolve": {"axis": {"x": "independent", "y": "independent"}}
  },
  {"width": 407, "height": 291,
   "title": {"text": "b)", "dx": -59, "offset": -5},
   "layer": [
    {"data": {"name": "b"}, "mark": {"type": "square", "size": 18, "opacity": 1},
     "encoding": {
      "x": {"field": "x", "type": "quantitative", "scale": {"domain": [0, 1.8], "nice": false, "zero": false},
            "axis": {"orient": "bottom", "values": [0, 0.4, 0.8, 1.2, 1.6], "format": ".1f", "tickSize": 15, "labelPadding": 8, "title": "JULIAC-II, NO₃-SOA", "titlePadding": 17}},
      "y": {"field": "y", "type": "quantitative", "scale": {"domain": [0, 1.8], "nice": false, "zero": false},
            "axis": {"orient": "left", "values": [0, 0.5, 1, 1.5], "format": ".1f", "ticks": false, "tickSize": 0, "labelPadding": 7, "title": "NO₃-SOA after tuning", "titlePadding": 16}},
      "color": {"field": "s", "type": "nominal", "scale": {"domain": ["E", "Y", "R"], "range": ["#8A8AFF", "#FFA500", "#FF0000"]}, "legend": null}
     }},
    {"data": {"name": "lb"}, "mark": {"type": "line", "color": "black", "strokeWidth": 2.5, "strokeDash": [11, 7]},
     "encoding": {
      "x": {"field": "x", "type": "quantitative", "scale": {"domain": [0, 1.8], "nice": false, "zero": false},
            "axis": {"orient": "bottom", "values": [0.1, 0.2, 0.3, 0.5, 0.6, 0.7, 0.9, 1.0, 1.1, 1.3, 1.4, 1.5, 1.7, 1.8], "tickSize": 8, "labels": false, "title": null}},
      "y": {"field": "y", "type": "quantitative", "scale": {"domain": [0, 1.8], "nice": false, "zero": false},
            "axis": {"orient": "left", "values": [0, 0.5, 1, 1.5], "tickSize": 15, "offset": -15, "labels": false, "title": null}}
     }}
   ],
   "resolve": {"axis": {"x": "independent", "y": "independent"}}
  },
  {"width": 407, "height": 291,
   "title": {"text": "c)", "dx": -121, "offset": 14},
   "layer": [
    {"data": {"name": "c"}, "mark": {"type": "square", "size": 18, "opacity": 1},
     "encoding": {
      "x": {"field": "x", "type": "quantitative", "scale": {"domain": [0, 4], "nice": false, "zero": false},
            "axis": {"orient": "bottom", "values": [0, 1, 2, 3, 4], "format": ".1f", "tickSize": 15, "labelPadding": 8, "title": "JULIAC-III, NO₃-SOA", "titlePadding": 17}},
      "y": {"field": "y", "type": "quantitative", "scale": {"domain": [0, 4], "nice": false, "zero": false},
            "axis": {"orient": "left", "values": [0, 1, 2, 3, 4], "format": "d", "ticks": false, "tickSize": 0, "labelPadding": 9, "title": "NO₃-SOA after tuning", "titlePadding": 27}},
      "color": {"field": "s", "type": "nominal", "scale": {"domain": ["E", "Y", "R"], "range": ["#8A8AFF", "#FFA500", "#FF0000"]}, "legend": null}
     }},
    {"data": {"name": "lc"}, "mark": {"type": "line", "color": "black", "strokeWidth": 2.5, "strokeDash": [11, 7]},
     "encoding": {
      "x": {"field": "x", "type": "quantitative", "scale": {"domain": [0, 4], "nice": false, "zero": false},
            "axis": {"orient": "bottom", "values": [0.5, 1.5, 2.5, 3.5], "tickSize": 8, "labels": false, "title": null}},
      "y": {"field": "y", "type": "quantitative", "scale": {"domain": [0, 4], "nice": false, "zero": false},
            "axis": {"orient": "left", "values": [0, 1, 2, 3, 4], "tickSize": 15, "offset": -15, "labels": false, "title": null}}
     }}
   ],
   "resolve": {"axis": {"x": "independent", "y": "independent"}}
  },
  {"width": 407, "height": 291,
   "title": {"text": "d)", "dx": -59, "offset": -3},
   "layer": [
    {"data": {"name": "d"}, "mark": {"type": "square", "size": 18, "opacity": 1},
     "encoding": {
      "x": {"field": "x", "type": "quantitative", "scale": {"domain": [0, 0.6], "nice": false, "zero": false},
            "axis": {"orient": "bottom", "values": [0, 0.1, 0.2, 0.3, 0.4, 0.5, 0.6], "format": ".2f", "tickSize": 15, "labelPadding": 8, "title": "JULIAC-IV, NO₃-SOA", "titlePadding": 17}},
      "y": {"field": "y", "type": "quantitative", "scale": {"domain": [0, 0.6], "nice": false, "zero": false},
            "axis": {"orient": "left", "values": [0, 0.2, 0.4, 0.6], "format": ".1f", "ticks": false, "tickSize": 0, "labelPadding": 7, "title": "NO₃-SOA after tuning", "titlePadding": 16}},
      "color": {"field": "s", "type": "nominal", "scale": {"domain": ["E", "Y", "R"], "range": ["#8A8AFF", "#FFA500", "#FF0000"]}, "legend": null}
     }},
    {"data": {"name": "ld"}, "mark": {"type": "line", "color": "black", "strokeWidth": 2.5, "strokeDash": [11, 7]},
     "encoding": {
      "x": {"field": "x", "type": "quantitative", "scale": {"domain": [0, 0.6], "nice": false, "zero": false},
            "axis": {"orient": "bottom", "values": [0.05, 0.15, 0.25, 0.35, 0.45, 0.55], "tickSize": 8, "labels": false, "title": null}},
      "y": {"field": "y", "type": "quantitative", "scale": {"domain": [0, 0.6], "nice": false, "zero": false},
            "axis": {"orient": "left", "values": [0, 0.2, 0.4, 0.6], "tickSize": 15, "offset": -15, "labels": false, "title": null}}
     }}
   ],
   "resolve": {"axis": {"x": "independent", "y": "independent"}}
  }
]
}
